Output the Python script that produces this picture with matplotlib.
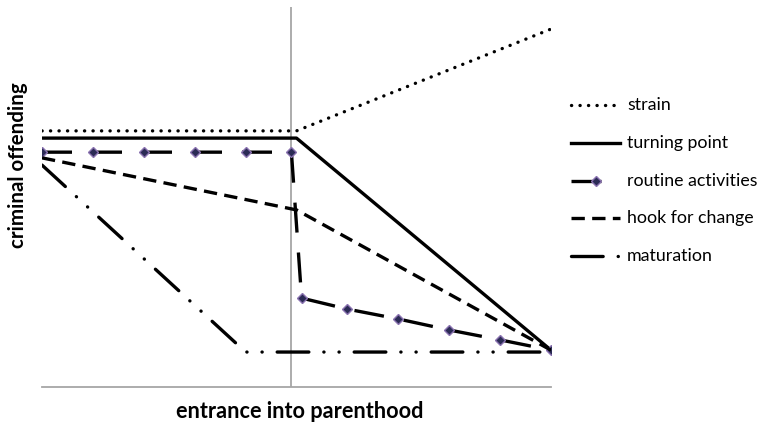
import matplotlib
matplotlib.use("Agg")
import matplotlib.pyplot as plt
from matplotlib.lines import Line2D

plt.rcParams['font.family'] = ['Lato', 'DejaVu Sans']

# ---- data (arbitrary units) ----
x_strain = [0, 5, 10]
y_strain = [67.4, 67.4, 94.2]

x_turning = [0, 5, 10]
y_turning = [65.5, 65.5, 9.7]

x_routine = [0, 1, 2, 3, 4, 4.9, 5.1, 6, 7, 8, 9, 10]
y_routine = [61.8, 61.8, 61.8, 61.8, 61.8, 61.8, 23.4, 20.5, 17.9, 15.0, 12.4, 9.7]

x_hook = [0, 5, 10]
y_hook = [60.3, 46.6, 9.7]

x_maturation = [0, 4, 10]
y_maturation = [58.4, 9.2, 9.2]

parenthood_x = 4.9
series_labels = ["strain", "turning point", "routine activities", "hook for change", "maturation"]

W, H = 759, 425
fig = plt.figure(figsize=(W / 100, H / 100), dpi=100)
ax = fig.add_axes([42 / W, 1 - 387 / H, (551 - 42) / W, (387 - 7) / H])
ax.set_xlim(0, 10)
ax.set_ylim(0, 100)

lw = 2.4
styles = [
    dict(color='black', lw=lw, linestyle=(0, (0.05, 2.5)), dash_capstyle='round'),
    dict(color='black', lw=lw),
    dict(color='black', lw=lw, linestyle=(0, (9, 6)), marker='D', markersize=5,
         markerfacecolor='#2b2b55', markeredgecolor='#8a72b0', markeredgewidth=1.0),
    dict(color='black', lw=lw, linestyle=(0, (4, 2.2))),
    dict(color='black', lw=lw, linestyle=(0, (9.5, 4.5, 0.05, 4.5, 0.05, 4.5)),
         dash_capstyle='round'),
]
series = [(x_strain, y_strain), (x_turning, y_turning), (x_routine, y_routine),
          (x_hook, y_hook), (x_maturation, y_maturation)]
for (xs, ys), st in zip(series, styles):
    ax.plot(xs, ys, **st)

ax.axvline(parenthood_x, color='#a6a6a6', lw=1.3, zorder=0)

for s in ['top', 'right', 'left']:
    ax.spines[s].set_visible(False)
ax.spines['bottom'].set_color('#a6a6a6')
ax.spines['bottom'].set_linewidth(1.3)
ax.set_xticks([])
ax.set_yticks([])

ylab = fig.text(18 / W, 1 - 165 / H, "criminal offending", rotation=90, fontsize=12,
                fontweight='bold', ha='center', va='center')
xlab = fig.text(300 / W, 1 - 411 / H, "entrance into parenthood", fontsize=12,
                fontweight='bold', ha='center', va='center')

# ---- manual legend (Excel-like) ----
row_y = [105, 143, 181, 218, 256]
leg_texts = []
for i, (lab, st) in enumerate(zip(series_labels, styles)):
    yy = 1 - row_y[i] / H
    st2 = dict(st)
    xs = [571 / W, 596 / W, 620 / W]
    if 'marker' in st2:
        st2['markevery'] = [1]
    ln = Line2D(xs, [yy] * 3, transform=fig.transFigure, **st2)
    fig.add_artist(ln)
    t = fig.text(627 / W, yy, lab, fontsize=10, ha='left', va='center')
    leg_texts.append(t)

# fit font sizes to the measured widths of the reference text
fig.canvas.draw()
r = fig.canvas.get_renderer()

def fit(t, target, vertical=False):
    bb = t.get_window_extent(r)
    w = bb.height if vertical else bb.width
    t.set_fontsize(t.get_fontsize() * target / w)

fit(ylab, 165, vertical=True)
fit(xlab, 245)
bb = leg_texts[2].get_window_extent(r)
scale = 130 / bb.width
for t in leg_texts:
    t.set_fontsize(t.get_fontsize() * scale)

fig.savefig("out.png", dpi=100)
